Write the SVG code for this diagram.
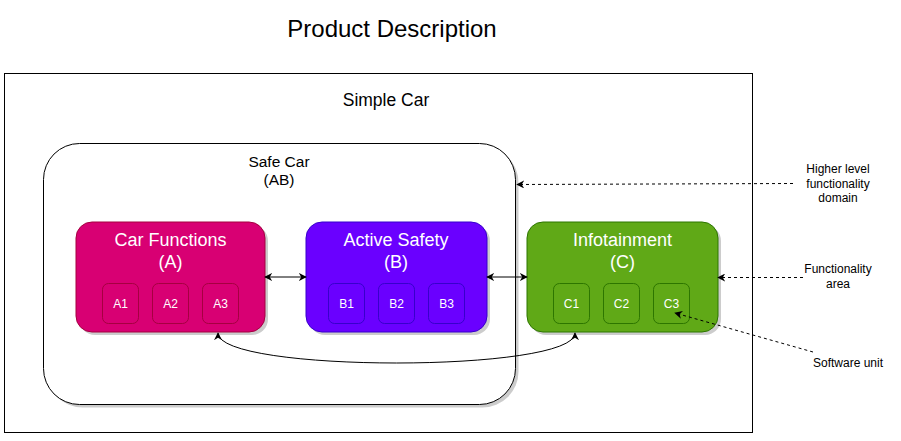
<svg xmlns="http://www.w3.org/2000/svg" width="901" height="441" viewBox="0 0 901 441">
<defs>
<marker id="arr" viewBox="0 0 10 10" refX="9" refY="5" markerWidth="8" markerHeight="8" markerUnits="userSpaceOnUse" orient="auto-start-reverse">
<path d="M0,0 L10,5 L0,10 L3,5 Z" fill="#000"/>
</marker>
</defs>
<style>
text{font-family:"Liberation Sans",Arial,sans-serif;}
.t{fill:#000;text-anchor:middle;}
.w{fill:#fff;text-anchor:middle;}
.shadow{fill:#000;opacity:0.2;}
.line{fill:none;stroke:#000;stroke-width:1;}
.dash{fill:none;stroke:#000;stroke-width:1;stroke-dasharray:3 3;}
.a{fill:#d80073;stroke:#a50040;}
.b{fill:#6a00ff;stroke:#3700cc;}
.c{fill:#60a917;stroke:#2d7600;}
.sq{stroke-width:1;}
</style>
<rect width="901" height="441" fill="#fff"/>
<text class="t" x="392" y="37" font-size="24">Product Description</text>

<g id="simple-car">
<rect x="4.5" y="73.5" width="748" height="359" fill="#fff" stroke="#000"/>
<text class="t" x="386" y="106" font-size="17.5">Simple Car</text>
</g>

<g id="safe-car">
<rect class="shadow" x="46.5" y="146.5" width="472" height="261" rx="36"/>
<rect x="43.5" y="143.5" width="472" height="261" rx="36" fill="#fff" stroke="#000"/>
<text class="t" x="279" y="167" font-size="15.5">Safe Car</text>
<text class="t" x="279" y="185" font-size="15.5">(AB)</text>
</g>

<g id="car-functions">
<rect class="shadow" x="79" y="225" width="189" height="110" rx="16"/>
<rect class="a" x="76" y="222" width="189" height="110" rx="16"/>
<text class="w" x="170.5" y="246" font-size="18">Car Functions</text>
<text class="w" x="170.5" y="268" font-size="18">(A)</text>
<g id="a1"><rect class="a sq" x="102.5" y="283.5" width="36" height="40" rx="6"/><text class="w" x="120.5" y="308" font-size="12">A1</text></g>
<g id="a2"><rect class="a sq" x="152.5" y="283.5" width="36" height="40" rx="6"/><text class="w" x="170.5" y="308" font-size="12">A2</text></g>
<g id="a3"><rect class="a sq" x="202.5" y="283.5" width="36" height="40" rx="6"/><text class="w" x="220.5" y="308" font-size="12">A3</text></g>
</g>

<g id="active-safety">
<rect class="shadow" x="309" y="225" width="181" height="110" rx="16"/>
<rect class="b" x="306" y="222" width="181" height="110" rx="16"/>
<text class="w" x="396" y="246" font-size="18">Active Safety</text>
<text class="w" x="396" y="268" font-size="18">(B)</text>
<g id="b1"><rect class="b sq" x="328.5" y="283.5" width="36" height="40" rx="6"/><text class="w" x="346.5" y="308" font-size="12">B1</text></g>
<g id="b2"><rect class="b sq" x="378.5" y="283.5" width="36" height="40" rx="6"/><text class="w" x="396.5" y="308" font-size="12">B2</text></g>
<g id="b3"><rect class="b sq" x="428.5" y="283.5" width="36" height="40" rx="6"/><text class="w" x="446.5" y="308" font-size="12">B3</text></g>
</g>

<g id="infotainment">
<rect class="shadow" x="530" y="225" width="191" height="110" rx="16"/>
<rect class="c" x="527" y="222" width="191" height="110" rx="16"/>
<text class="w" x="622.5" y="246" font-size="18">Infotainment</text>
<text class="w" x="622.5" y="268" font-size="18">(C)</text>
<g id="c1"><rect class="c sq" x="553.5" y="283.5" width="36" height="40" rx="6"/><text class="w" x="571.5" y="308" font-size="12">C1</text></g>
<g id="c2"><rect class="c sq" x="603.5" y="283.5" width="36" height="40" rx="6"/><text class="w" x="621.5" y="308" font-size="12">C2</text></g>
<g id="c3"><rect class="c sq" x="653.5" y="283.5" width="36" height="40" rx="6"/><text class="w" x="671.5" y="308" font-size="12">C3</text></g>
</g>

<g id="labels">
<text class="t" x="838" y="173" font-size="12">Higher level</text>
<text class="t" x="838" y="188" font-size="12">functionality</text>
<text class="t" x="838" y="202" font-size="12">domain</text>
<text class="t" x="838" y="273" font-size="12">Functionality</text>
<text class="t" x="838" y="288" font-size="12">area</text>
<text class="t" x="848" y="367" font-size="12">Software unit</text>
</g>

<g id="connectors">
<line class="line" x1="265" y1="277" x2="306" y2="277" marker-start="url(#arr)" marker-end="url(#arr)"/>
<line class="line" x1="487" y1="277" x2="527" y2="277" marker-start="url(#arr)" marker-end="url(#arr)"/>
<path class="line" d="M218,333 C218,373 575,373 575,333" marker-start="url(#arr)" marker-end="url(#arr)"/>
<line class="dash" x1="793" y1="183.5" x2="517" y2="184.5" marker-end="url(#arr)"/>
<line class="dash" x1="803" y1="277.5" x2="718" y2="277.5" marker-end="url(#arr)"/>
<line class="dash" x1="813" y1="352" x2="675" y2="313" marker-end="url(#arr)"/>
</g>
</svg>
